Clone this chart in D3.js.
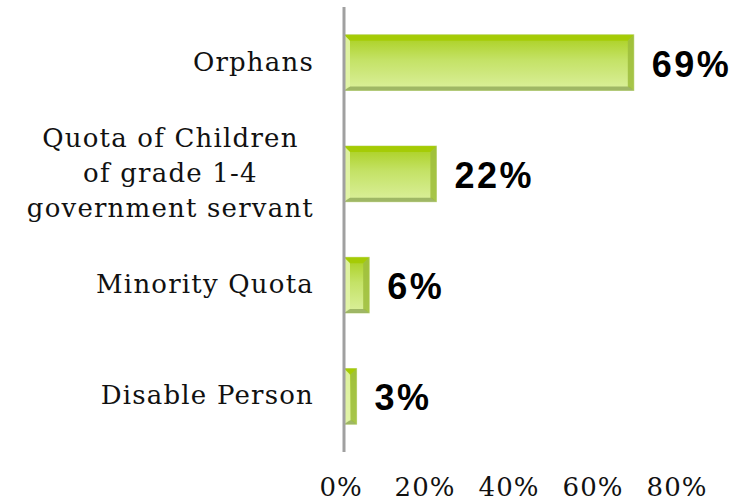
<!DOCTYPE html>
<html>
<head>
<meta charset="utf-8">
<script src="https://cdn.jsdelivr.net/npm/d3@7"></script>
<style>
  body { margin: 0; background: #fff; }
  .cat-label { font-family: "DejaVu Serif", serif; font-size: 26px; letter-spacing: 1.2px; fill: #111; }
  .value-label { font-family: "Liberation Sans", Arial, sans-serif; font-weight: bold; font-size: 36px; letter-spacing: 2.5px; fill: #000; }
  .tick-label { font-family: "DejaVu Serif", serif; font-size: 26px; letter-spacing: 1px; fill: #111; }
</style>
</head>
<body>
<div id="chart"></div>
<script>
// Quota shares by category
const categories = ["Orphans", "Quota of Children of grade 1-4 government servant", "Minority Quota", "Disable Person"];
const labelLines = [["Orphans"], ["Quota of Children", "of grade 1-4", "government servant"], ["Minority Quota"], ["Disable Person"]];
const values = [69, 22, 6, 3];
const tickValues = [0, 20, 40, 60, 80];

const width = 736, height = 504;
const margin = { top: 7, right: 56, bottom: 52, left: 344 };
const innerW = width - margin.left - margin.right;
const innerH = height - margin.top - margin.bottom;

const svg = d3.select("#chart")
    .append("svg")
    .attr("width", width)
    .attr("height", height);

// gradients for the bevelled bars
const defs = svg.append("defs");
const face = defs.append("linearGradient")
    .attr("id", "barFace")
    .attr("x1", 0).attr("y1", 0).attr("x2", 0).attr("y2", 1);
face.append("stop").attr("offset", "0%").attr("stop-color", "#a9cf1c");
face.append("stop").attr("offset", "45%").attr("stop-color", "#c4e266");
face.append("stop").attr("offset", "100%").attr("stop-color", "#dbf09c");

const inner = svg.append("g")
    .attr("transform", `translate(${margin.left}, ${margin.top})`);

const xScale = d3.scaleLinear()
    .domain([0, 80])
    .range([0, innerW]);

const yScale = d3.scaleBand()
    .domain(categories)
    .range([0, innerH])
    .paddingInner(0.5)
    .paddingOuter(0.25);

// bars
const bars = inner.selectAll(".bar")
    .data(categories)
    .join("g")
    .attr("class", "bar");

const bev = 6;
bars.append("rect")
    .attr("x", 0)
    .attr("y", d => yScale(d))
    .attr("width", (d, i) => xScale(values[i]))
    .attr("height", yScale.bandwidth())
    .attr("fill", "url(#barFace)")
    .attr("stroke", "#c9dd8e")
    .attr("stroke-width", 1);

// bevel edges
function edge(d, i, side) {
    const x0 = 0, x1 = xScale(values[i]);
    const y0 = yScale(d), y1 = y0 + yScale.bandwidth();
    const b = Math.min(bev, (x1 - x0) / 2);
    const bb = 4;
    if (side === "top") return [[x0, y0], [x1, y0], [x1 - b, y0 + b], [x0 + b, y0 + b]];
    if (side === "bottom") return [[x0, y1], [x1, y1], [x1 - bb, y1 - bb], [x0 + bb, y1 - bb]];
    if (side === "left") return [[x0, y0], [x0 + b, y0 + b], [x0 + b, y1 - bb], [x0, y1]];
    return [[x1, y0], [x1 - b, y0 + b], [x1 - b, y1 - bb], [x1, y1]];
}
const edgeFill = { top: "#a3ca00", bottom: "#94ad5c", left: "#e2f4a8", right: "#9dbd3c" };
["top", "bottom", "left", "right"].forEach(side => {
    bars.append("polygon")
        .attr("points", (d, i) => edge(d, i, side).map(p => p.join(",")).join(" "))
        .attr("fill", edgeFill[side])
        .attr("opacity", side === "left" ? 0.9 : 0.85);
});

// value labels
inner.selectAll(".value-label")
    .data(categories)
    .join("text")
    .attr("class", "value-label")
    .attr("x", (d, i) => xScale(values[i]) + 18)
    .attr("y", d => yScale(d) + yScale.bandwidth() / 2 + 14)
    .text((d, i) => values[i] + "%");

// category labels: right edge of each block at labelRight, lines centred within the block
const labelRight = -30;
inner.selectAll(".cat-label")
    .data(categories)
    .join("text")
    .attr("class", "cat-label")
    .attr("text-anchor", "middle")
    .attr("y", (d, i) => yScale(d) + yScale.bandwidth() / 2 + 8 - (labelLines[i].length - 1) * 35 / 2)
    .each(function (d, i) {
        const t = d3.select(this);
        const spans = t.selectAll("tspan")
            .data(labelLines[i])
            .join("tspan")
            .attr("dy", (s, j) => j === 0 ? 0 : 35)
            .text(s => s);
        const maxW = d3.max(spans.nodes(), n => n.getComputedTextLength());
        spans.attr("x", labelRight - maxW / 2);
    });

// vertical axis line
inner.append("line")
    .attr("x1", 0).attr("x2", 0)
    .attr("y1", 0).attr("y2", innerH)
    .attr("stroke", "#a0a0a0")
    .attr("stroke-width", 3);

// x tick labels (no axis line)
inner.selectAll(".tick-label")
    .data(tickValues)
    .join("text")
    .attr("class", "tick-label")
    .attr("text-anchor", "middle")
    .attr("x", d => xScale(d) - 3)
    .attr("y", innerH + 44)
    .text(d => d + "%");
</script>
</body>
</html>
